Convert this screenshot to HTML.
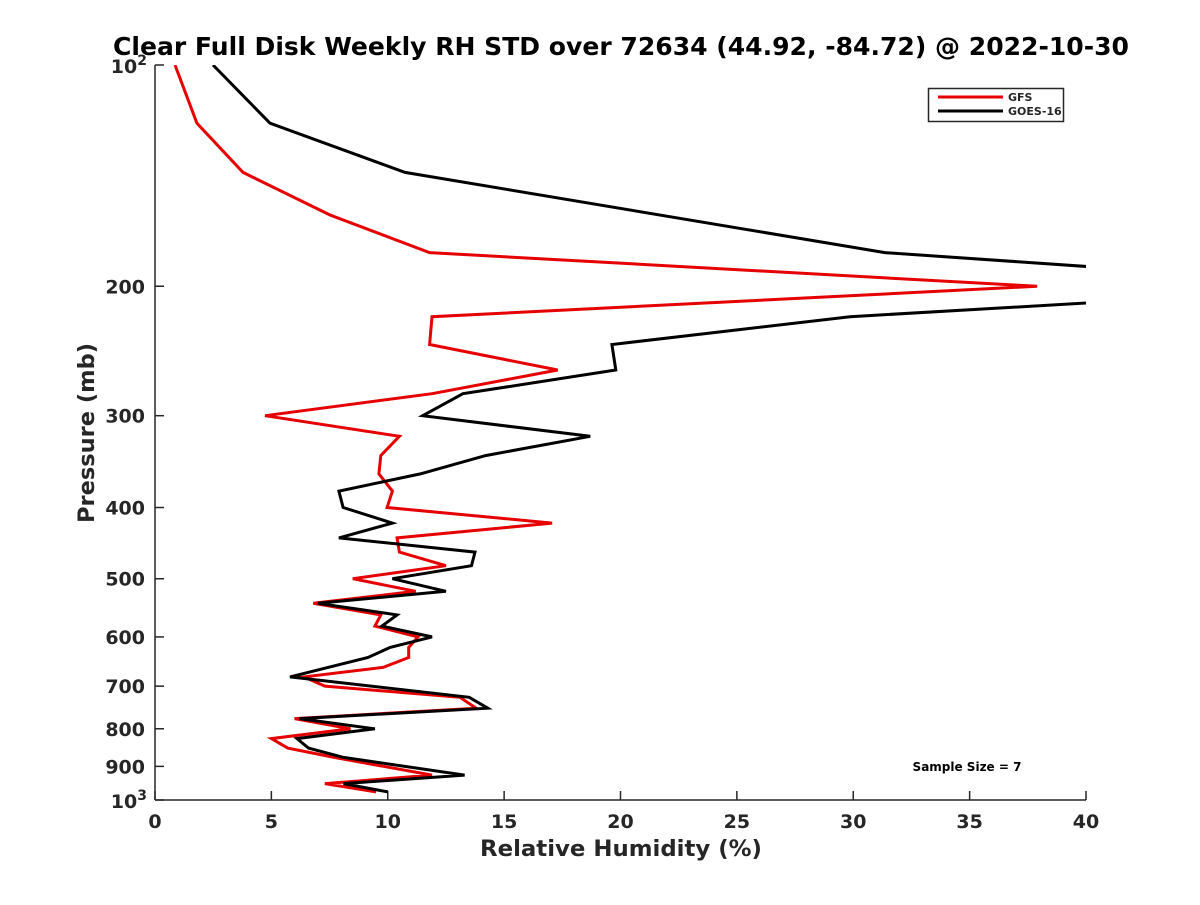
<!DOCTYPE html>
<html><head><meta charset="utf-8"><style>
html,body{margin:0;padding:0;background:#fff;}
svg text{font-family:"DejaVu Sans","Liberation Sans",sans-serif;font-weight:bold;fill:#262626;}
</style></head><body>
<svg id="chart" width="1200" height="900">
<text x="621" y="55" text-anchor="middle" font-size="25" textLength="1016" lengthAdjust="spacingAndGlyphs" style="fill:#000">Clear Full Disk Weekly RH STD over 72634 (44.92, -84.72) @ 2022-10-30</text>
<defs><clipPath id="plotclip"><rect x="155" y="65" width="931" height="735"/></clipPath></defs>
<g id="axes"></g>
<g id="lines" clip-path="url(#plotclip)"></g>
<g>
<rect x="928.5" y="88.5" width="135" height="33" fill="#fff" stroke="#262626" stroke-width="1.5"/>
<line x1="938" y1="97" x2="1003" y2="97" stroke="#e60000" stroke-width="3"/>
<text x="1008" y="101" font-size="11">GFS</text>
<line x1="938" y1="111" x2="1003" y2="111" stroke="#000" stroke-width="3"/>
<text x="1008" y="115" font-size="11">GOES-16</text>
</g>
<text x="967" y="771" text-anchor="middle" font-size="12" style="fill:#000">Sample Size = 7</text>
<text x="621" y="856" text-anchor="middle" font-size="22" textLength="282" lengthAdjust="spacingAndGlyphs">Relative Humidity (%)</text>
<text transform="translate(94,433) rotate(-90)" text-anchor="middle" font-size="22" textLength="180" lengthAdjust="spacingAndGlyphs">Pressure (mb)</text>
</svg>
<script>
const gfsP = [100,120,140,160,180,200,220,240,260,280,300,320,340,360,380,400,420,440,460,480,500,520,540,560,580,600,620,640,660,680,700,725,750,775,800,825,850,875,925,950,975];
const gfsRH = [0.86,1.8,3.78,7.52,11.8,37.9,11.9,11.8,17.3,11.9,4.73,10.5,9.7,9.62,10.2,9.97,17.06,10.4,10.5,12.5,8.5,11.2,6.8,9.7,9.45,11.3,10.9,10.9,9.8,6.4,7.3,13.1,13.8,6.0,8.4,5.0,5.7,7.7,11.9,7.3,9.5];
const goesP = [100,120,140,180,200,220,240,260,280,300,320,340,360,380,400,420,440,460,480,500,520,540,560,580,600,620,640,680,725,750,775,800,825,850,875,925,950,975];
const goesRH = [2.49,4.94,10.74,31.36,52.4,29.86,19.63,19.8,13.23,11.5,18.7,14.2,11.4,7.9,8.08,10.2,7.9,13.75,13.6,10.2,12.5,7.0,10.4,9.75,11.9,10.1,9.15,5.8,13.5,14.3,6.2,9.45,6.1,6.6,8.1,13.3,8.1,10.0];
const xTicks = [0,5,10,15,20,25,30,35,40];
const yTicks = [100,200,300,400,500,600,700,800,900,1000];
const yTickLabels = ["10^2","200","300","400","500","600","700","800","900","10^3"];

const X0=155,X1=1086,Y0=65,Y1=800;
const xs=v=>X0+(v-0)/(40-0)*(X1-X0);
const ys=p=>Y0+(Math.log10(p)-2)*(Y1-Y0);
const NS="http://www.w3.org/2000/svg";
const axes=document.getElementById('axes'), lines=document.getElementById('lines');
function mk(tag,attrs,parent){const e=document.createElementNS(NS,tag);for(const k in attrs)e.setAttribute(k,attrs[k]);parent.appendChild(e);return e;}

let e=mk('line',{x1:X0,y1:Y0,x2:X0,y2:Y1,stroke:'#262626','stroke-width':1.5},axes);


e=mk('line',{x1:X0,y1:Y1,x2:X1,y2:Y1,stroke:'#262626','stroke-width':1.5},axes);



xTicks.forEach(v=>{
  const x=xs(v);
  let t=mk('line',{x1:x,y1:Y1,x2:x,y2:Y1-9,stroke:'#262626','stroke-width':1.5},axes);
  
  
  let l=mk('text',{x:x,y:Y1+28,'text-anchor':'middle','font-size':19},axes);
  l.textContent=v;
  
  
});
yTicks.forEach((p,i)=>{
  const y=ys(p);
  let t=mk('line',{x1:X0,y1:y,x2:X0+9,y2:y,stroke:'#262626','stroke-width':1.5},axes);
  
  
  const lab=yTickLabels[i];
  if(lab.indexOf('^')>=0){
    const parts=lab.split('^');
    let l=mk('text',{x:X0-8,y:y+8,'text-anchor':'end','font-size':19},axes);
    const a=mk('tspan',{},l); a.textContent=parts[0];
    const b=mk('tspan',{'font-size':14,dy:-8},l); b.textContent=parts[1];
    
    
  } else {
    let l=mk('text',{x:X0-10,y:y+7,'text-anchor':'end','font-size':19},axes);
    l.textContent=lab;
    
    
  }
});

function series(P,V,color,name){
  const pts=P.map((p,i)=>xs(V[i]).toFixed(1)+','+ys(p).toFixed(1)).join(' ');
  const pl=mk('polyline',{points:pts,fill:'none',stroke:color,'stroke-width':3,'stroke-linejoin':'miter'},lines);
  
  
}
series(gfsP,gfsRH,'#e60000','gfs-line');
series(goesP,goesRH,'#000000','goes16-line');
</script>
</body></html>
